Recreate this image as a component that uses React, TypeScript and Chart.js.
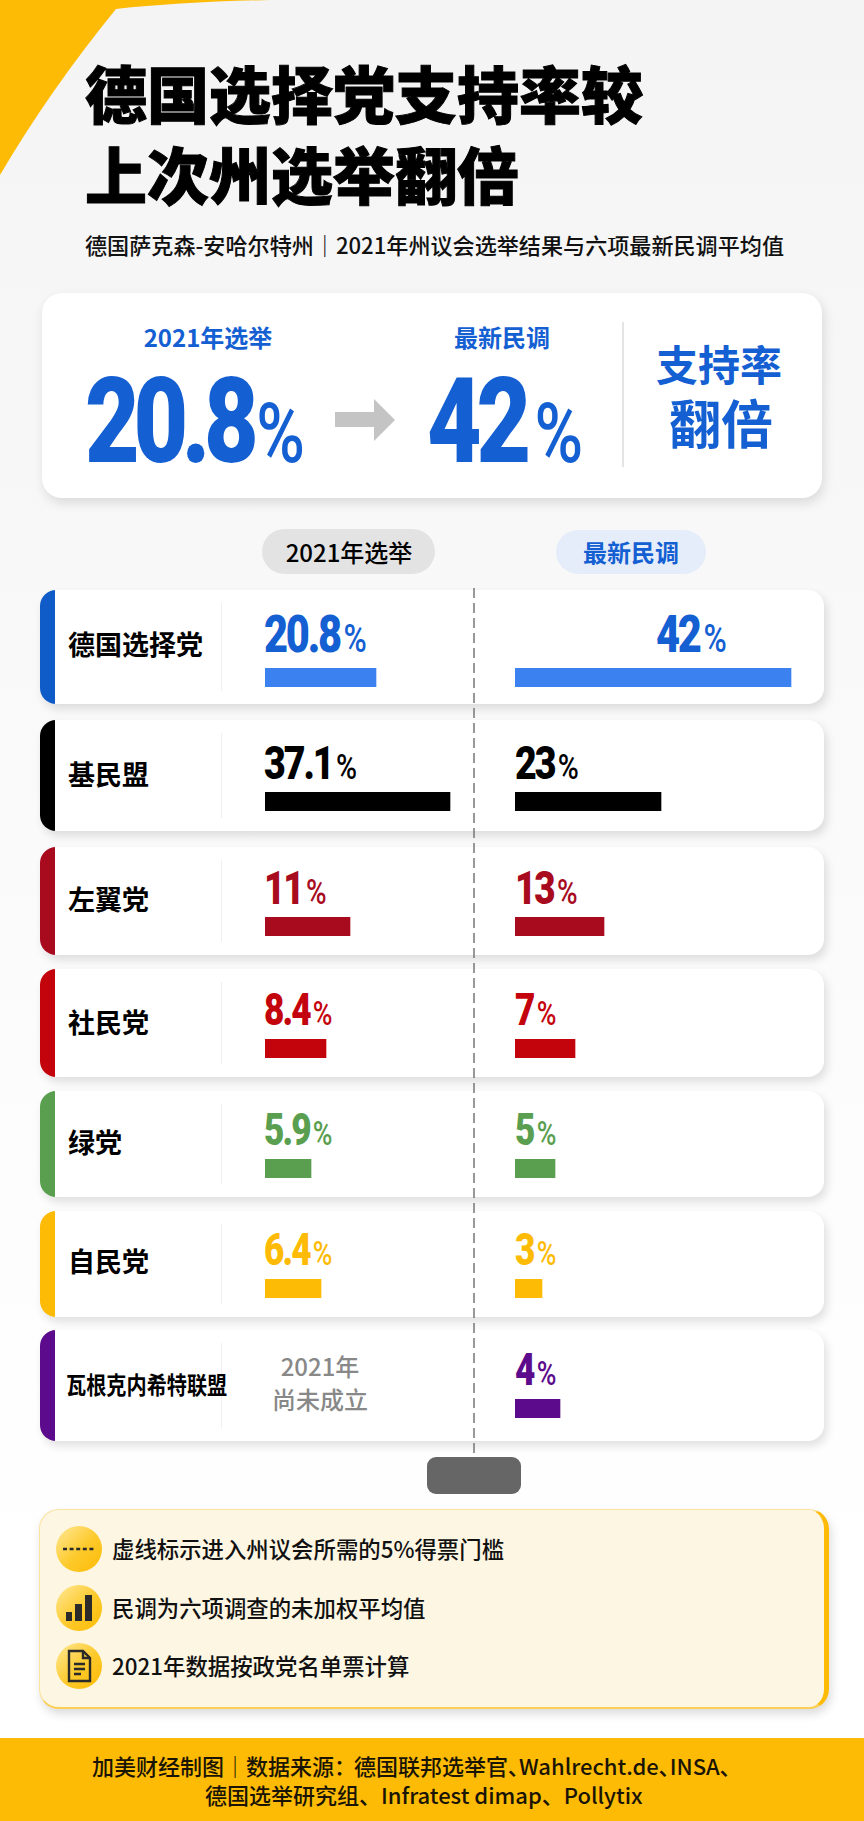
import React, { useEffect, useRef } from "react";
import { Chart, registerables } from "chart.js";

Chart.register(...registerables);

// ---- data ----
const parties = ["德国选择党", "基民盟", "左翼党", "社民党", "绿党", "自民党", "瓦根克内希特联盟"];
const electionLabels = ["20.8", "37.1", "11", "8.4", "5.9", "6.4", null];
const pollLabels = ["42", "23", "13", "7", "5", "3", "4"];
// The bars in the picture are not proportional to the printed shares, so their
// drawn lengths are read off separately, in units of the two value axes below.
const electionBarLengths = [111, 185, 85, 61, 46, 56, null];
const pollBarLengths = [276, 146, 89, 60, 40, 27, 45];
const electionAxisMax = 210;
const pollAxisMax = 290;
const notes = ["虚线标示进入州议会所需的5%得票门槛", "民调为六项调查的未加权平均值", "2021年数据按政党名单票计算"];
const footerLines = ["加美财经制图｜数据来源：德国联邦选举官、Wahlrecht.de、INSA、", "德国选举研究组、Infratest dimap、Pollytix"];

// ---- styles & layout ----
const FONT = '"Noto Sans CJK SC", "Noto Sans", sans-serif';
const BLUE = "#145fd2";
const accentColors = ["#0f5cc9", "#000000", "#a80a1e", "#c4040c", "#5a9e50", "#fdbb06", "#5c0b8c"];
const barColors = ["#3b82f0", "#000000", "#a80a1e", "#c4040c", "#5a9e50", "#fdbb06", "#5c0b8c"];
const textColors = ["#145fd2", "#000000", "#a80a1e", "#c4040c", "#5a9e50", "#fdbb06", "#5c0b8c"];
const rowBoxes = [[590, 704], [720, 831], [847, 955], [969, 1077], [1091, 1197], [1211, 1317], [1330, 1441]];
const barTops = [668, 792, 917, 1039, 1159, 1279, 1399];
const labelCenters = [645, 775, 900, 1023, 1143, 1262, 1385];
const valueBaselines = [652, 778, 903, 1025, 1145, 1265, 1385];
const valueSizes = [52, 47, 46, 44, 44, 44, 44];

function BarCell({ party, value, color, left, top, axisMax }: any) {
  const ref = useRef<HTMLCanvasElement>(null);
  useEffect(() => {
    const chart = new Chart(ref.current!, {
      type: "bar",
      data: {
        labels: [party],
        datasets: [{ data: [value], backgroundColor: color, borderWidth: 0, barPercentage: 1, categoryPercentage: 1 }],
      },
      options: {
        indexAxis: "y",
        animation: false,
        responsive: false,
        layout: { padding: 0 },
        plugins: { legend: { display: false }, tooltip: { enabled: false } },
        scales: {
          x: { display: false, min: 0, max: axisMax },
          y: { display: false },
        },
      },
    });
    return () => chart.destroy();
  }, []);
  return (
    <canvas
      ref={ref}
      width={axisMax}
      height={19}
      style={{ position: "absolute", left, top, width: axisMax, height: 19, display: "block" }}
    />
  );
}

function Txt({ x, cy, size, weight = 500, color = "#000", center = false, sx = 1, children, extra }: any) {
  return (
    <div
      style={{
        position: "absolute",
        left: x,
        top: cy - size * 0.55,
        fontSize: size,
        lineHeight: 1,
        fontWeight: weight,
        color,
        whiteSpace: "nowrap",
        transform: `${center ? "translateX(-50%) " : ""}scaleX(${sx})`,
        transformOrigin: center ? "50% 50%" : "0 50%",
        ...extra,
      }}
    >
      {children}
    </div>
  );
}

function Value({ x, baseline, size, color, sx = 0.8, pct = 0.76, gap = 0.09, track = -0.055, children }: any) {
  return (
    <div
      style={{
        position: "absolute",
        left: x,
        top: baseline - size * 0.83,
        fontFamily: "Roboto, sans-serif",
        fontSize: size,
        lineHeight: 1,
        fontWeight: 900,
        color,
        whiteSpace: "nowrap",
        transform: `scaleX(${sx})`,
        transformOrigin: "0 0",
      }}
    >
      <span style={{ letterSpacing: `${track}em` }}>{children}</span>
      <span style={{ fontSize: size * pct, fontWeight: 500, marginLeft: size * gap }}>%</span>
    </div>
  );
}

function NoteIcon({ cy, kind }: any) {
  return (
    <svg width={46} height={46} style={{ position: "absolute", left: 56, top: cy - 23 }} viewBox="0 0 46 46">
      <defs>
        <linearGradient id={`g${kind}`} x1="0" y1="0" x2="1" y2="1">
          <stop offset="0" stopColor="#ffe998" />
          <stop offset="0.55" stopColor="#fdc92a" />
          <stop offset="1" stopColor="#fdbb06" />
        </linearGradient>
      </defs>
      <circle cx="23" cy="23" r="23" fill={`url(#g${kind})`} />
      {kind === 0 && (
        <line x1="7" y1="23" x2="39" y2="23" stroke="#2a2a2a" strokeWidth="2.4" strokeDasharray="4 2.6" />
      )}
      {kind === 1 && (
        <g fill="#2a2a2a">
          <rect x="10" y="27" width="6" height="9" />
          <rect x="19" y="19" width="7" height="17" />
          <rect x="29" y="10" width="7" height="26" />
        </g>
      )}
      {kind === 2 && (
        <g fill="none" stroke="#2a2a2a" strokeWidth="2.4">
          <path d="M13 8 H27 L34 15 V38 H13 Z" />
          <path d="M27 8 V15 H34" />
          <path d="M18 21 H29 M18 26 H29 M18 31 H25" />
        </g>
      )}
    </svg>
  );
}

export default function App() {
  useEffect(() => {
    document.body.style.margin = "0";
  }, []);
  const [footA, footB] = footerLines[0].split("：");
  return (
    <div
      style={{
        position: "absolute",
        left: 0,
        top: 0,
        width: 864,
        height: 1821,
        overflow: "hidden",
        fontFamily: FONT,
        background: "linear-gradient(#f4f4f4 0, #f8f8f8 30%, #fefefe 75%, #ffffff 100%)",
      }}
    >
      {/* corner */}
      <svg width={300} height={200} style={{ position: "absolute", left: 0, top: 0 }}>
        <path d="M0 0 L270 0 Q180 2 116 9 Q50 90 0 175 Z" fill="#fdbb06" />
      </svg>

      {/* title */}
      <div style={{ position: "absolute", left: 85, top: 52, fontSize: 62, lineHeight: "81px", fontWeight: 900, color: "#000", WebkitTextStroke: "1px #000" }}>
        <div style={{ whiteSpace: "nowrap" }}>德国选择党支持率较</div>
        <div style={{ whiteSpace: "nowrap" }}>上次州选举翻倍</div>
      </div>
      <Txt x={85} cy={245} size={22.1} weight={500} color="#111">德国萨克森-安哈尔特州｜2021年州议会选举结果与六项最新民调平均值</Txt>

      {/* summary card */}
      <div style={{ position: "absolute", left: 42, top: 293, width: 780, height: 205, background: "#fff", borderRadius: 20, boxShadow: "2px 5px 12px rgba(0,0,0,.12)" }} />
      <Txt x={208} cy={338} size={24} weight={600} color={BLUE} center>2021年选举</Txt>
      <Txt x={502} cy={338} size={24} weight={600} color={BLUE} center>最新民调</Txt>
      <Value x={85} baseline={461} size={118} color={BLUE} sx={0.8} pct={0.7} gap={0.04} track={-0.067}>{electionLabels[0]}</Value>
      <svg width={60} height={42} style={{ position: "absolute", left: 335, top: 399 }}>
        <path d="M0 13 H39 V0 L60 21 L39 42 V28 H0 Z" fill="#c4c4c4" />
      </svg>
      <Value x={427} baseline={461} size={118} color={BLUE} sx={0.8} pct={0.7}>{pollLabels[0]}</Value>
      <div style={{ position: "absolute", left: 622, top: 322, width: 1.5, height: 145, background: "#e4e4e4" }} />
      <Txt x={719} cy={365} size={42} weight={700} color={BLUE} center>支持率</Txt>
      <Txt x={721} cy={425} size={52} weight={700} color={BLUE} center>翻倍</Txt>

      {/* column pills */}
      <div style={{ position: "absolute", left: 262, top: 529, width: 173, height: 45, borderRadius: 23, background: "#e3e3e3" }} />
      <Txt x={349} cy={553} size={24} color="#000" center>2021年选举</Txt>
      <div style={{ position: "absolute", left: 556, top: 530, width: 150, height: 44, borderRadius: 22, background: "#e4edf9" }} />
      <Txt x={631} cy={553} size={24} weight={600} color={BLUE} center>最新民调</Txt>

      {/* rows */}
      {parties.map((party, i) => {
        const [top, bottom] = rowBoxes[i];
        const longName = party.length > 6;
        return (
          <React.Fragment key={party}>
            <div
              style={{
                position: "absolute",
                left: 40,
                top,
                width: 784,
                height: bottom - top,
                background: "#fff",
                borderRadius: 16,
                boxShadow: "3px 5px 10px rgba(0,0,0,.12)",
                overflow: "hidden",
              }}
            >
              <div style={{ position: "absolute", left: 0, top: 0, bottom: 0, width: 15, background: accentColors[i] }} />
            </div>
            <div style={{ position: "absolute", left: 221, top: top + 13, width: 1, height: bottom - top - 26, background: "#f0f0f0" }} />
            {longName ? (
              <Txt x={66} cy={labelCenters[i]} size={24} weight={700} sx={0.84}>{party}</Txt>
            ) : (
              <Txt x={68} cy={labelCenters[i]} size={27} weight={700}>{party}</Txt>
            )}
            {electionLabels[i] !== null ? (
              <Value x={264} baseline={valueBaselines[i]} size={valueSizes[i]} color={textColors[i]}>{electionLabels[i]}</Value>
            ) : (
              <>
                <Txt x={320} cy={1367} size={24} color="#888" center>2021年</Txt>
                <Txt x={320} cy={1400} size={24} color="#888" center>尚未成立</Txt>
              </>
            )}
            <Value x={i === 0 ? 656 : 515} baseline={valueBaselines[i]} size={valueSizes[i]} color={textColors[i]}>{pollLabels[i]}</Value>
            {electionBarLengths[i] !== null && (
              <BarCell party={party} value={electionBarLengths[i]} color={barColors[i]} left={265} top={barTops[i]} axisMax={electionAxisMax} />
            )}
            <BarCell party={party} value={pollBarLengths[i]} color={barColors[i]} left={515} top={barTops[i]} axisMax={pollAxisMax} />
          </React.Fragment>
        );
      })}

      {/* threshold line and its tag */}
      <svg width={4} height={870} style={{ position: "absolute", left: 472, top: 588 }}>
        <line x1="2" y1="0" x2="2" y2="870" stroke="#777" strokeWidth="1.5" strokeDasharray="10 5" />
      </svg>
      <div style={{ position: "absolute", left: 427, top: 1457, width: 94, height: 37, borderRadius: 9, background: "#666" }} />

      {/* notes panel */}
      <div
        style={{
          position: "absolute",
          left: 39,
          top: 1509,
          width: 790,
          height: 200,
          boxSizing: "border-box",
          background: "#fdf6e3",
          borderRadius: 20,
          border: "1px solid #fbe3a0",
          borderRight: "5px solid #fdbb06",
          borderBottom: "2px solid #fbcf55",
          boxShadow: "2px 5px 10px rgba(0,0,0,.14)",
        }}
      />
      {notes.map((note, i) => {
        const cy = [1549, 1608, 1666][i];
        return (
          <React.Fragment key={note}>
            <NoteIcon cy={cy} kind={i} />
            <Txt x={112} cy={cy} size={22.4} weight={500} color="#111">{note}</Txt>
          </React.Fragment>
        );
      })}

      {/* footer */}
      <div style={{ position: "absolute", left: 0, top: 1738, width: 864, height: 83, background: "#fdbb06" }} />
      <Txt x={92} cy={1766} size={22} weight={500} color="#1a1405" extra={{ fontFeatureSettings: '"palt"' }}>
        {footA}
        <span style={{ marginRight: 9 }}>：</span>
        {footB}
      </Txt>
      <Txt x={205} cy={1795} size={22} weight={500} color="#1a1405">{footerLines[1]}</Txt>
    </div>
  );
}
